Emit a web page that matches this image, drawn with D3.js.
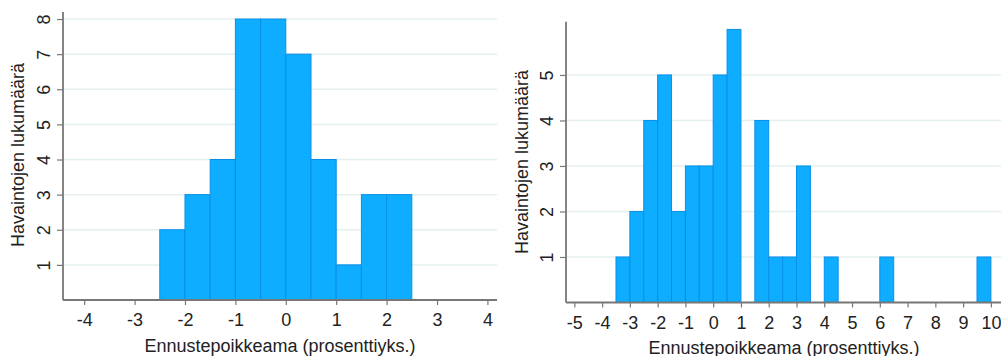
<!DOCTYPE html>
<html>
<head>
<meta charset="utf-8">
<script src="https://cdn.jsdelivr.net/npm/d3@7"></script>
<style>
  body { margin: 0; background: #fff; }
  svg { display: block; font-family: "Liberation Sans", Arial, sans-serif; }
</style>
</head>
<body>
<div id="chart"></div>
<script>
// histogram bins, width 0.5
var binWidth = 0.5;
var leftBins = [-2.5, -2, -1.5, -1, -0.5, 0, 0.5, 1, 1.5, 2];
var leftCounts = [2, 3, 4, 8, 8, 7, 4, 1, 3, 3];
var leftXTicks = [-4, -3, -2, -1, 0, 1, 2, 3, 4];
var leftYTicks = [1, 2, 3, 4, 5, 6, 7, 8];

var rightBins = [-3.5, -3, -2.5, -2, -1.5, -1, -0.5, 0, 0.5, 1.5, 2, 2.5, 3, 4, 6, 9.5];
var rightCounts = [1, 2, 4, 5, 2, 3, 3, 5, 6, 4, 1, 1, 3, 1, 1, 1];
var rightXTicks = [-5, -4, -3, -2, -1, 0, 1, 2, 3, 4, 5, 6, 7, 8, 9, 10];
var rightYTicks = [1, 2, 3, 4, 5];

var xTitle = "Ennustepoikkeama (prosenttiyks.)";
var yTitle = "Havaintojen lukumäärä";

const BAR_FILL = "#0eadff";
const BAR_EDGE = "#0a8fe8";
const GRID_COLOR = "#e6efef";
const AXIS_COLOR = "#777";
const TEXT_COLOR = "#222";

var svg = d3.select("#chart").append("svg")
    .attr("width", 1001)
    .attr("height", 356);

// plain hyphen for negatives, like the original
function fmt(d) {
    return String(d);
}

function drawPanel(opts) {
    var x = d3.scaleLinear().domain(opts.xDomain).range([opts.left, opts.right]);
    var y = d3.scaleLinear().domain(opts.yDomain).range([opts.bottom, opts.top]);
    var g = svg.append("g");

    // gridlines
    g.selectAll(".grid")
        .data(opts.yTicks)
        .enter()
        .append("line")
        .attr("class", "grid")
        .attr("x1", opts.left)
        .attr("x2", opts.right)
        .attr("y1", function (d) { return y(d); })
        .attr("y2", function (d) { return y(d); })
        .style("stroke", GRID_COLOR)
        .style("stroke-width", 1.5);

    // bars
    g.selectAll(".bar")
        .data(opts.bins.map(function (b, i) { return { x0: b, n: opts.counts[i] }; }))
        .enter()
        .append("rect")
        .attr("class", "bar")
        .attr("x", function (d) { return x(d.x0); })
        .attr("width", function (d) { return x(d.x0 + binWidth) - x(d.x0); })
        .attr("y", function (d) { return y(d.n); })
        .attr("height", function (d) { return y(0) - y(d.n); })
        .attr("fill", BAR_FILL)
        .attr("stroke", BAR_EDGE)
        .attr("stroke-width", 1);

    // x axis
    var xAxis = g.append("g")
        .attr("transform", "translate(0," + opts.bottom + ")")
        .call(d3.axisBottom(x).tickValues(opts.xTicks).tickSize(5).tickFormat(fmt));
    xAxis.select(".domain").remove();
    xAxis.selectAll(".tick line").style("stroke", AXIS_COLOR).style("stroke-width", 1.2);
    xAxis.selectAll("text")
        .attr("y", opts.xLabelDy)
        .attr("dy", 0)
        .style("font-size", "18px")
        .style("fill", TEXT_COLOR);

    // y axis
    var yAxis = g.append("g")
        .attr("transform", "translate(" + opts.left + ",0)")
        .call(d3.axisLeft(y).tickValues(opts.yTicks).tickSize(6).tickFormat(fmt));
    yAxis.select(".domain").remove();
    yAxis.selectAll(".tick line").style("stroke", AXIS_COLOR).style("stroke-width", 1.2);
    yAxis.selectAll("text")
        .attr("x", 0)
        .attr("y", 0)
        .attr("dy", 0)
        .attr("transform", "translate(" + (-opts.yLabelDx) + ",0) rotate(-90)")
        .style("text-anchor", "middle")
        .style("font-size", "18px")
        .style("fill", TEXT_COLOR);

    // axis lines
    g.append("line")
        .attr("x1", opts.left).attr("x2", opts.right)
        .attr("y1", opts.bottom).attr("y2", opts.bottom)
        .style("stroke", AXIS_COLOR).style("stroke-width", 1.8);
    g.append("line")
        .attr("x1", opts.left).attr("x2", opts.left)
        .attr("y1", opts.top).attr("y2", opts.bottom)
        .style("stroke", AXIS_COLOR).style("stroke-width", 1.8);

    // titles
    g.append("text")
        .attr("x", (opts.left + opts.right) / 2)
        .attr("y", opts.xTitleY)
        .attr("text-anchor", "middle")
        .style("font-size", "18px")
        .style("fill", TEXT_COLOR)
        .text(xTitle);
    g.append("text")
        .attr("transform", "translate(" + opts.yTitleX + "," + opts.yTitleY + ") rotate(-90)")
        .attr("text-anchor", "middle")
        .style("font-size", "18px")
        .style("fill", TEXT_COLOR)
        .text(yTitle);
}

drawPanel({
    bins: leftBins, counts: leftCounts, xTicks: leftXTicks, yTicks: leftYTicks,
    xDomain: [-4.42, 4.19], yDomain: [0, 8.2],
    left: 63, right: 497, top: 12, bottom: 300,
    xLabelDy: 25.5, yLabelDx: 13, xTitleY: 352, yTitleX: 23.5, yTitleY: 155
});

drawPanel({
    bins: rightBins, counts: rightCounts, xTicks: rightXTicks, yTicks: rightYTicks,
    xDomain: [-5.3, 10.4], yDomain: [0, 6.17],
    left: 566, right: 1002, top: 21.7, bottom: 302.5,
    xLabelDy: 26, yLabelDx: 13.5, xTitleY: 353.5, yTitleX: 527.5, yTitleY: 162
});
</script>
</body>
</html>
